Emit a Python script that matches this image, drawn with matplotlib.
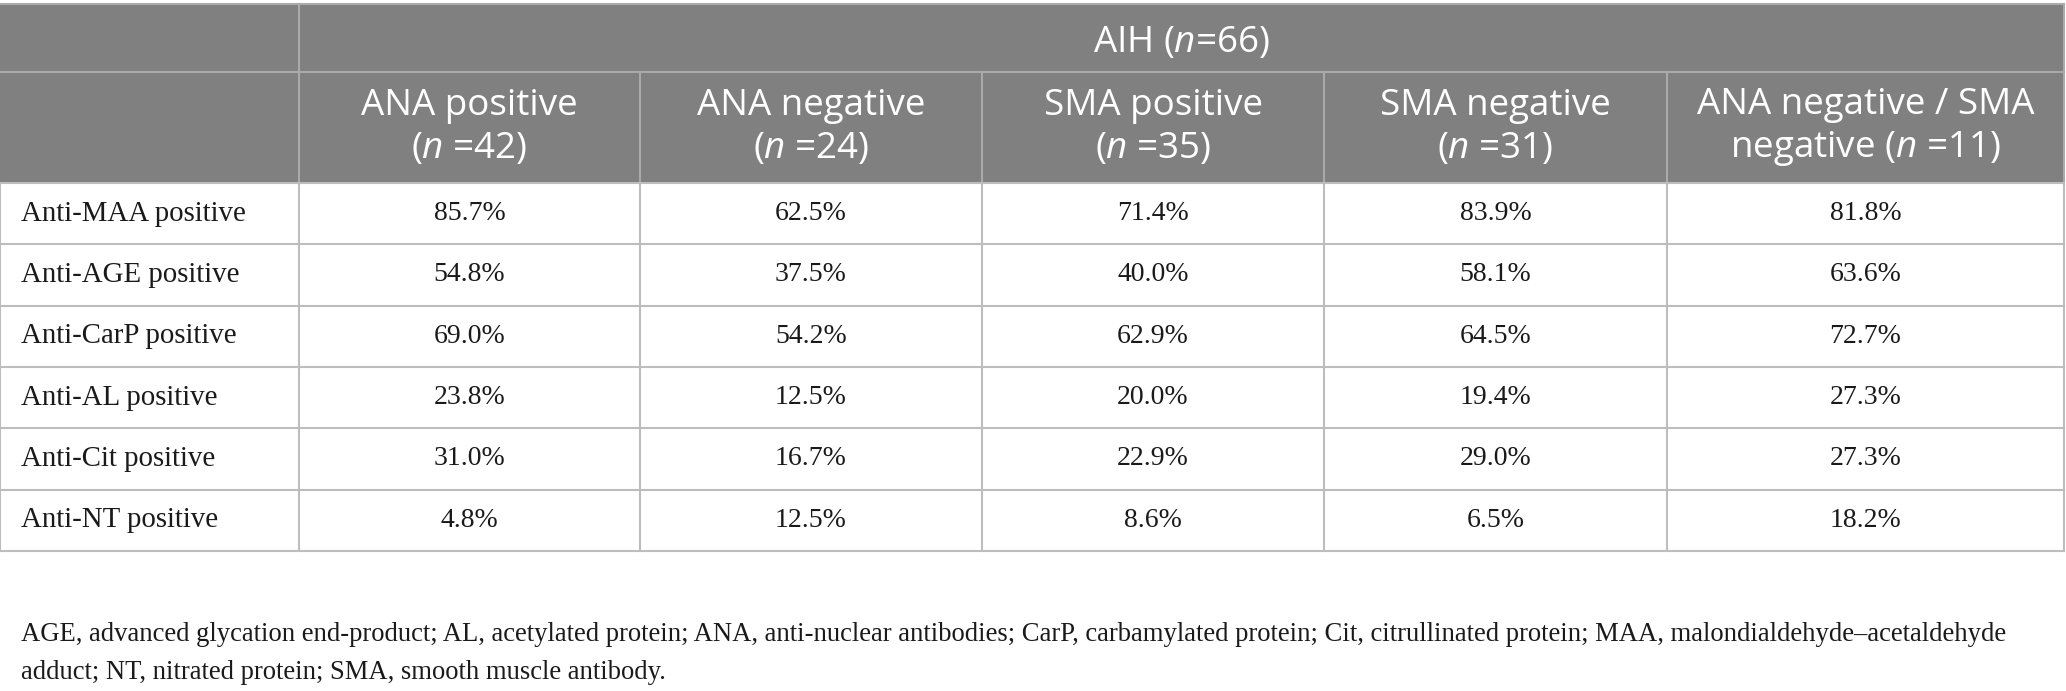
import matplotlib
matplotlib.use("Agg")
import matplotlib.pyplot as plt
from matplotlib.patches import Rectangle

# ---------------------------------------------------------------------------------
# Table data
# ---------------------------------------------------------------------------------
group_title = "AIH ($n$=66)"
col_headers = [
    "ANA positive\n($n$ =42)",
    "ANA negative\n($n$ =24)",
    "SMA positive\n($n$ =35)",
    "SMA negative\n($n$ =31)",
    "ANA negative / SMA\nnegative ($n$ =11)",
]
row_labels = [
    "Anti-MAA positive",
    "Anti-AGE positive",
    "Anti-CarP positive",
    "Anti-AL positive",
    "Anti-Cit positive",
    "Anti-NT positive",
]
ana_pos = [85.7, 54.8, 69.0, 23.8, 31.0, 4.8]
ana_neg = [62.5, 37.5, 54.2, 12.5, 16.7, 12.5]
sma_pos = [71.4, 40.0, 62.9, 20.0, 22.9, 8.6]
sma_neg = [83.9, 58.1, 64.5, 19.4, 29.0, 6.5]
both_neg = [81.8, 63.6, 72.7, 27.3, 27.3, 18.2]
footnote = ("AGE, advanced glycation end-product; AL, acetylated protein; ANA, anti-nuclear antibodies; "
            "CarP, carbamylated protein; Cit, citrullinated protein; MAA, malondialdehyde\u2013acetaldehyde\n"
            "adduct; NT, nitrated protein; SMA, smooth muscle antibody.")

columns = [ana_pos, ana_neg, sma_pos, sma_neg, both_neg]

# ---------------------------------------------------------------------------------
# Layout (pixel units)
# ---------------------------------------------------------------------------------
W, H = 2066, 691
col_widths = [299, 341, 342, 342, 343, 397]
top = 4
head1_h = 68
head2_h = 111
row_h = 61.3

HEAD_BG = "#7f807f"
LINE_HEAD = "#a9aaa9"
LINE_BODY = "#bdbdbd"

plt.rcParams["mathtext.fontset"] = "custom"
plt.rcParams["mathtext.rm"] = "Open Sans"
plt.rcParams["mathtext.it"] = "Open Sans:italic"

fig = plt.figure(figsize=(W / 100, H / 100), dpi=100)
ax = fig.add_axes([0, 0, 1, 1])
ax.set_xlim(0, W)
ax.set_ylim(H, 0)
ax.axis("off")

x_edges = [0]
for w in col_widths:
    x_edges.append(x_edges[-1] + w)
right = x_edges[-1]
y_h1 = top + head1_h
y_h2 = y_h1 + head2_h
n_rows = len(row_labels)
y_edges = [y_h2 + i * row_h for i in range(n_rows + 1)]
bottom = y_edges[-1]

# header background
ax.add_patch(Rectangle((0, top), right, y_h2 - top, facecolor=HEAD_BG, edgecolor="none", zorder=1))

# header lines
ax.plot([0, right], [top, top], color=LINE_HEAD, lw=1.5, zorder=2)
ax.plot([0, right], [y_h1, y_h1], color=LINE_HEAD, lw=1.5, zorder=2)
ax.plot([x_edges[1], x_edges[1]], [top, y_h2], color=LINE_HEAD, lw=1.5, zorder=2)
for x in x_edges[2:-1]:
    ax.plot([x, x], [y_h1, y_h2], color=LINE_HEAD, lw=1.5, zorder=2)
ax.plot([right, right], [top, y_h2], color=LINE_HEAD, lw=1.5, zorder=2)

# body lines
for y in y_edges:
    ax.plot([0, right], [y, y], color=LINE_BODY, lw=1.5, zorder=2)
for x in x_edges:
    ax.plot([x, x], [y_h2, bottom], color=LINE_BODY, lw=1.5, zorder=2)

# header texts
ax.text((x_edges[1] + right) / 2, (top + y_h1) / 2 + 5, group_title, color="white",
        fontsize=26.5, family="Open Sans", ha="center", va="center", zorder=3)
for j, label in enumerate(col_headers):
    cx = (x_edges[j + 1] + x_edges[j + 2]) / 2
    ax.text(cx, (y_h1 + y_h2) / 2, label, color="white", fontsize=26.5,
            family="Open Sans", ha="center", va="center", multialignment="center",
            linespacing=1.24, zorder=3)

# body texts
for i, label in enumerate(row_labels):
    cy = (y_edges[i] + y_edges[i + 1]) / 2
    ax.text(21, cy, label, fontsize=20.8, family="Liberation Serif", ha="left",
            va="center", color="#1a1a1a", zorder=3)
    for j, col in enumerate(columns):
        cx = (x_edges[j + 1] + x_edges[j + 2]) / 2
        ax.text(cx, cy, f"{col[i]:.1f}%", fontsize=20, family="Liberation Serif",
                ha="center", va="center", color="#1a1a1a", zorder=3)

# footnote
ax.text(21, 679, footnote, fontsize=19.15, family="Liberation Serif", ha="left",
        va="baseline", color="#1a1a1a", linespacing=1.67, zorder=3)

fig.savefig("out.png", dpi=100)
